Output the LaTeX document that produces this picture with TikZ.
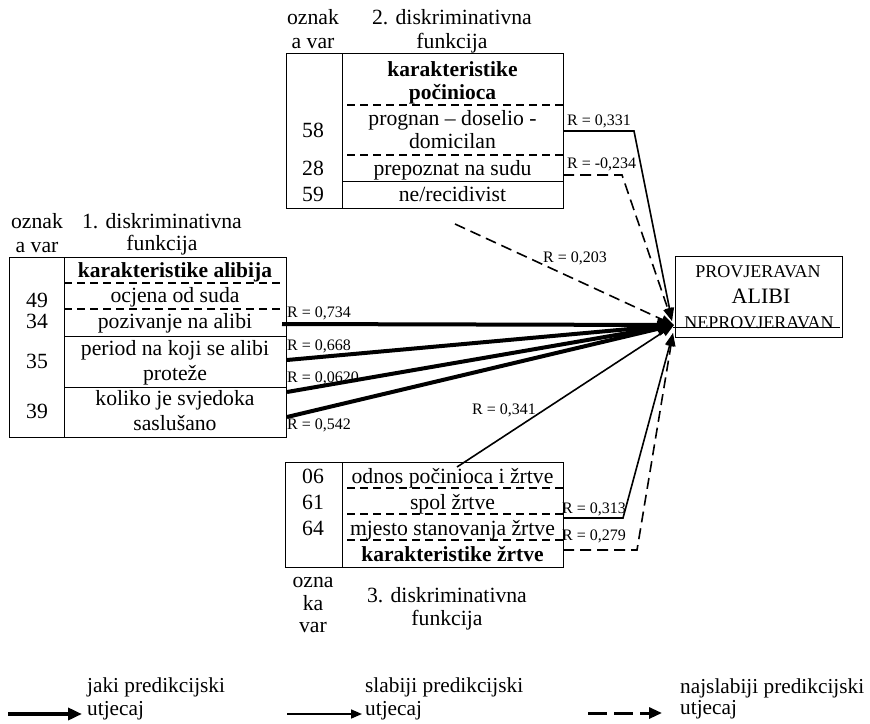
\documentclass[tikz,border=0pt]{standalone}
\usepackage{fontspec}
\setmainfont{Liberation Serif}
\usetikzlibrary{arrows.meta}
\begin{document}
\begin{tikzpicture}[x=1pt,y=-1pt,
 txt/.style={anchor=base,inner sep=0pt,font=\fontsize{21.7}{24}\selectfont},
 bld/.style={anchor=base,inner sep=0pt,font=\fontsize{21.5}{24}\selectfont\bfseries},
 rlab/.style={anchor=base west,inner sep=0pt,font=\fontsize{16}{18}\selectfont},
 leg/.style={anchor=base west,inner sep=0pt,font=\fontsize{21.3}{23}\selectfont},
 tgt/.style={anchor=base,inner sep=0pt,font=\fontsize{18}{20}\selectfont},
 tbl/.style={draw,line width=0.9pt},
 dsep/.style={line width=2.2pt,dash pattern=on 8pt off 5pt},
 ssep/.style={line width=0.9pt},
 strong/.style={line width=4pt,-{Triangle[length=16pt,width=13pt]}},
 medium/.style={line width=1.6pt,-{Triangle[length=13pt,width=9pt]}},
 weak/.style={line width=1.6pt,dash pattern=on 11pt off 6pt,-{Triangle[length=13pt,width=9pt]}},
]
\useasboundingbox (0,0) rectangle (870,723);

% ---------- box 2 (top) ----------
\node[tbl,anchor=north west,minimum width=277pt,minimum height=155pt,inner sep=0pt] (box2) at (286,53) {};
\draw[ssep] (342,53) -- (342,208);
\draw[dsep] (347,105) -- (563,105);
\draw[dsep] (347,155) -- (563,155);
\draw[ssep] (342,181) -- (563,181);
\node[txt] (h2a) at (313,24) {oznak};
\node[txt] (h2b) at (313,48) {a var};
\node[txt] (h2c) at (452,24) {2. diskriminativna};
\node[txt] (h2d) at (452,48) {funkcija};
\node[bld] (r2a) at (452.5,76) {karakteristike};
\node[bld] (r2b) at (452.5,99) {počinioca};
\node[txt] (r2c) at (452.5,125) {prognan – doselio -};
\node[txt] (r2d) at (452.5,148) {domicilan};
\node[txt] (r2e) at (452.5,175) {prepoznat na sudu};
\node[txt] (r2f) at (452.5,201) {ne/recidivist};
\node[txt] (n58) at (313,137) {58};
\node[txt] (n28) at (313,175) {28};
\node[txt] (n59) at (313,201) {59};

% ---------- box 1 (left) ----------
\node[tbl,anchor=north west,minimum width=277pt,minimum height=180pt,inner sep=0pt] (box1) at (9,257) {};
\draw[ssep] (64,257) -- (64,437);
\draw[dsep] (64,283) -- (283,283);
\draw[dsep] (64,309) -- (283,309);
\draw[ssep] (64,336) -- (286,336);
\draw[ssep] (64,387) -- (286,387);
\node[txt] (h1a) at (37,228) {oznak};
\node[txt] (h1b) at (37,252) {a var};
\node[txt] (h1c) at (162,228) {1. diskriminativna};
\node[txt] (h1d) at (162,250) {funkcija};
\node[bld] (r1a) at (175,277) {karakteristike alibija};
\node[txt] (r1b) at (175,302) {ocjena od suda};
\node[txt] (r1c) at (175,328) {pozivanje na alibi};
\node[txt] (r1d) at (175,355) {period na koji se alibi};
\node[txt] (r1e) at (175,380) {proteže};
\node[txt] (r1f) at (175,405) {koliko je svjedoka};
\node[txt] (r1g) at (175,430) {saslušano};
\node[txt] (n49) at (37,307) {49};
\node[txt] (n34) at (37,328) {34};
\node[txt] (n35) at (37,368) {35};
\node[txt] (n39) at (37,418) {39};

% ---------- box 3 (bottom) ----------
\node[tbl,anchor=north west,minimum width=278pt,minimum height=105pt,inner sep=0pt] (box3) at (285,462) {};
\draw[ssep] (342,462) -- (342,567);
\draw[dsep] (347,488) -- (563,488);
\draw[dsep] (347,514) -- (563,514);
\draw[dsep] (347,540) -- (563,540);
\node[txt] (r3a) at (452.5,483) {odnos počinioca i žrtve};
\node[txt] (r3b) at (452.5,509) {spol žrtve};
\node[txt] (r3c) at (452.5,535) {mjesto stanovanja žrtve};
\node[bld] (r3d) at (452.5,561) {karakteristike žrtve};
\node[txt] (n06) at (313,483) {06};
\node[txt] (n61) at (313,509) {61};
\node[txt] (n64) at (313,535) {64};
\node[txt] (h3a) at (313,587) {ozna};
\node[txt] (h3b) at (313,610) {ka};
\node[txt] (h3c) at (313,632) {var};
\node[txt] (h3d) at (447,602) {3. diskriminativna};
\node[txt] (h3e) at (447,625) {funkcija};

% ---------- target ----------
\node[tbl,anchor=north west,minimum width=167pt,minimum height=81pt,inner sep=0pt] (tbox) at (675,256) {};
\node[tgt] (t1) at (758,277) {PROVJERAVAN};
\node[anchor=base,inner sep=0pt,font=\fontsize{22}{24}\selectfont] (t2) at (761,303) {ALIBI};
\node[tgt] (t3) at (759,328) {NEPROVJERAVAN};
\draw[line width=0.9pt] (673,327) -- (840,327);

% ---------- connector ends ----------
\coordinate (T) at (674,325);
\coordinate (T1) at (672,321);
\coordinate (T2) at (673,333);
\coordinate (a734) at (282,324);
\coordinate (a668) at (287,360);
\coordinate (a062) at (287,392);
\coordinate (a542) at (287,417);
\coordinate (b331) at (563,131);
\coordinate (k331) at (634,131);
\coordinate (b234) at (563,175);
\coordinate (k234) at (622,175);
\coordinate (c203) at (455,224);
\coordinate (c341) at (457,467);
\coordinate (d313) at (563,518);
\coordinate (k313) at (623,518);
\coordinate (d279) at (563,550);
\coordinate (k279) at (637,550);

\draw[strong] (a734) -- (T);
\draw[strong] (a668) -- (T);
\draw[strong] (a062) -- (T);
\draw[strong] (a542) -- (T);
\draw[medium] (b331) -- (k331) -- (T1);
\draw[weak] (b234) -- (k234) -- (T1);
\draw[weak] (c203) -- (T);
\draw[medium] (c341) -- (T);
\draw[medium] (d313) -- (k313) -- (T2);
\draw[weak] (d279) -- (k279) -- (T2);

% ---------- R labels ----------
\node[rlab] (l734) at (287,317) {R = 0,734};
\node[rlab] (l668) at (287,350) {R = 0,668};
\node[rlab] (l062) at (287,382) {R = 0,0620};
\node[rlab] (l542) at (287,429) {R = 0,542};
\node[rlab] (l331) at (567,125) {R = 0,331};
\node[rlab] (l234) at (567,168) {R = -0,234};
\node[rlab] (l203) at (543,262) {R = 0,203};
\node[rlab] (l341) at (472,414) {R = 0,341};
\node[rlab] (l313) at (562,513) {R = 0,313};
\node[rlab] (l279) at (562,540) {R = 0,279};

% ---------- legend ----------
\coordinate (g1a) at (8,714);
\coordinate (g1b) at (82,714);
\coordinate (g2a) at (287,714);
\coordinate (g2b) at (362,714);
\coordinate (g3a) at (588,713);
\coordinate (g3b) at (662,713);
\draw[strong,-{Triangle[length=14pt,width=12pt]}] (g1a) -- (g1b);
\draw[medium,-{Triangle[length=11pt,width=9pt]}] (g2a) -- (g2b);
\draw[line width=3pt,dash pattern=on 19pt off 7pt,-{Triangle[length=13pt,width=11pt]}] (g3a) -- (g3b);
\node[leg] (e1a) at (87,692) {jaki predikcijski};
\node[leg] (e1b) at (87,715) {utjecaj};
\node[leg] (e2a) at (365,692) {slabiji predikcijski};
\node[leg] (e2b) at (365,715) {utjecaj};
\node[leg] (e3a) at (680,693) {najslabiji predikcijski};
\node[leg] (e3b) at (680,714) {utjecaj};
\end{tikzpicture}
\end{document}
